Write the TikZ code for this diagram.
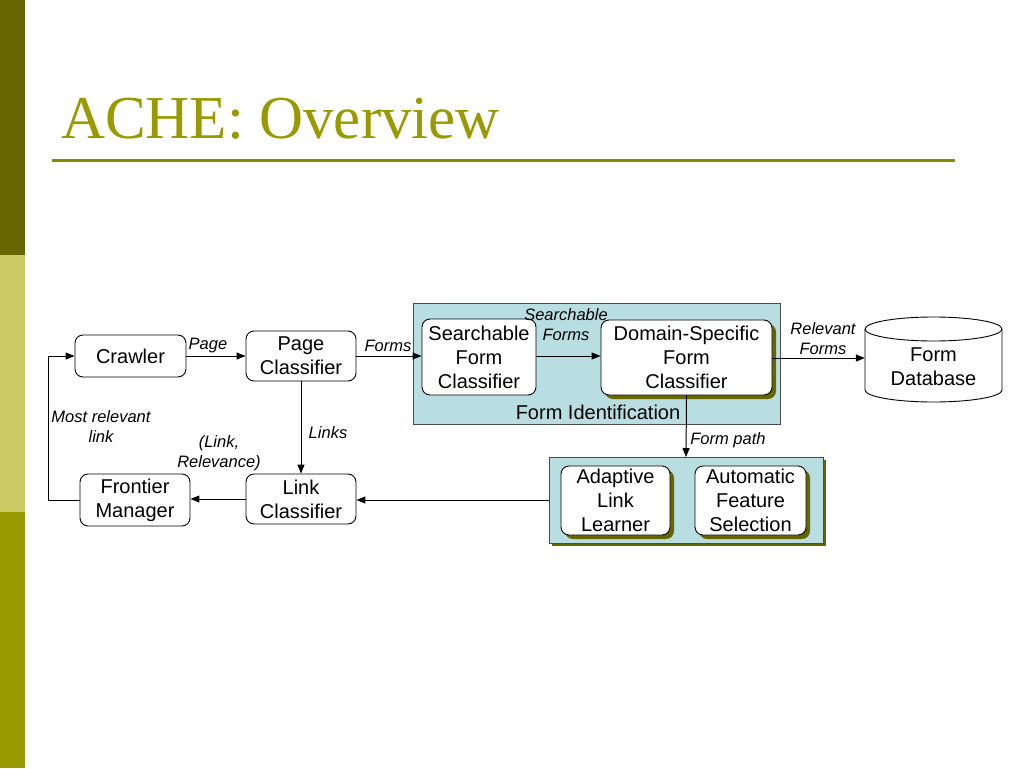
\documentclass[tikz,border=0pt]{standalone}
\usepackage{fontspec}
\setmainfont{Liberation Sans}
\newfontfamily\titlefont{Liberation Serif}
\usetikzlibrary{arrows.meta,shadows}
\definecolor{darkolive}{HTML}{666600}
\definecolor{lightolive}{HTML}{CCCC66}
\definecolor{midolive}{HTML}{999900}
\definecolor{titleolive}{HTML}{999900}
\definecolor{clusterfill}{HTML}{B9DEE2}
\definecolor{clusterline}{HTML}{4A4A4A}
\tikzset{
  box/.style={draw=black, line width=0.9pt, rounded corners=8pt, fill=white, inner sep=0pt,
    align=center, font=\fontsize{20}{24}\selectfont},
  shadowbox/.style={box, drop shadow={shadow xshift=4pt, shadow yshift=-4pt, fill=darkolive, opacity=1}},
  cluster/.style={draw=clusterline, line width=1pt, fill=clusterfill},
  lbl/.style={font=\fontsize{16.5}{20.5}\selectfont\itshape, align=center, inner sep=0pt},
  arr/.style={line width=1pt, -{Triangle[length=9pt,width=7pt]}},
}
\begin{document}
\begin{tikzpicture}[x=1pt,y=-1pt]
\useasboundingbox (0,0) rectangle (1024,768);
% left bar
\fill[darkolive] (0,0) rectangle (25,255);
\fill[lightolive] (0,255) rectangle (25,512);
\fill[midolive] (0,512) rectangle (25,768);
% title
\node[anchor=base west, inner sep=0pt, text=titleolive, font=\titlefont\fontsize{61}{61}\selectfont] (title) at (61,138) {ACHE: Overview};
\draw[titleolive!90!black, line width=3pt] (52,160) -- (955,160);

% clusters
\draw[cluster] (413,303) rectangle (780,424);
\node[font=\fontsize{20}{24}\selectfont, inner sep=0pt] (fid) at (598,412) {Form Identification};
\fill[darkolive] (552,460) rectangle (826,546);
\draw[cluster] (549,457) rectangle (823,543);
\coordinate (lowwest) at (549,500);
\coordinate (lowtop) at (686,457);

% nodes
\node[box, minimum width=111pt, minimum height=42pt] (crawler) at (130.5,356) {Crawler};
\node[box, minimum width=110pt, minimum height=50pt] (pagec) at (301,356) {Page\\Classifier};
\node[box, minimum width=110pt, minimum height=50pt] (linkc) at (301,499) {Link\\Classifier};
\node[box, minimum width=110pt, minimum height=52pt] (frontier) at (135,500) {Frontier\\Manager};
\node[box, minimum width=114pt, minimum height=76pt] (sfc) at (479,357) {Searchable\\Form\\Classifier};
\node[shadowbox, minimum width=171pt, minimum height=75pt] (dsfc) at (686.5,357.5) {Domain-Specific\\Form\\Classifier};
\node[shadowbox, minimum width=109pt, minimum height=69pt] (all) at (615.5,500.5) {Adaptive\\Link\\Learner};
\node[shadowbox, minimum width=111pt, minimum height=69pt] (afs) at (750.5,500.5) {Automatic\\Feature\\Selection};

% database cylinder
\draw[line width=0.9pt, fill=white] (865,329) -- (865,390) arc[start angle=180, end angle=360, x radius=68.5pt, y radius=12pt]
  -- (1002,329) arc[start angle=0, end angle=180, x radius=68.5pt, y radius=12pt] -- cycle;
\draw[line width=0.9pt] (865,329) arc[start angle=180, end angle=360, x radius=68.5pt, y radius=12pt];
\node[inner sep=0pt, minimum width=137pt, minimum height=50pt, align=center, font=\fontsize{20}{24}\selectfont] (db) at (933.5,367) {Form\\Database};

% connectors
\draw[arr] (crawler.east) -- (pagec.west);
\node[lbl] (lpage) at (208,346) {Page};
\draw[arr] (pagec.east) -- (sfc.west |- pagec.east);
\node[lbl] (lforms) at (388,346) {Forms};
\draw[arr] (sfc.east |- pagec.east) -- (dsfc.west |- pagec.east);
\node[lbl] (lsforms) at (566,324.5) {Searchable\\Forms};
\draw[arr] (dsfc.east |- 0,358) -- (db.west |- 0,358);
\node[lbl] (lrforms) at (823,338.5) {Relevant\\Forms};
\draw[arr] (dsfc.south) -- (lowtop);
\node[lbl] (lfpath) at (728,440) {Form path};
\draw[arr] (pagec.south) -- (linkc.north);
\node[lbl] (llinks) at (328,433) {Links};
\draw[arr] (lowwest) -- (linkc.east |- lowwest);
\draw[arr] (linkc.west) -- (frontier.east |- linkc.west);
\node[lbl] (llinkrel) at (219,453) {(Link,\\Relevance)};
\draw[arr] (frontier.west) -- (48,500) -- (48,356) -- (crawler.west);
\node[lbl] (lmost) at (101,426.5) {Most relevant\\link};
\end{tikzpicture}
\end{document}
